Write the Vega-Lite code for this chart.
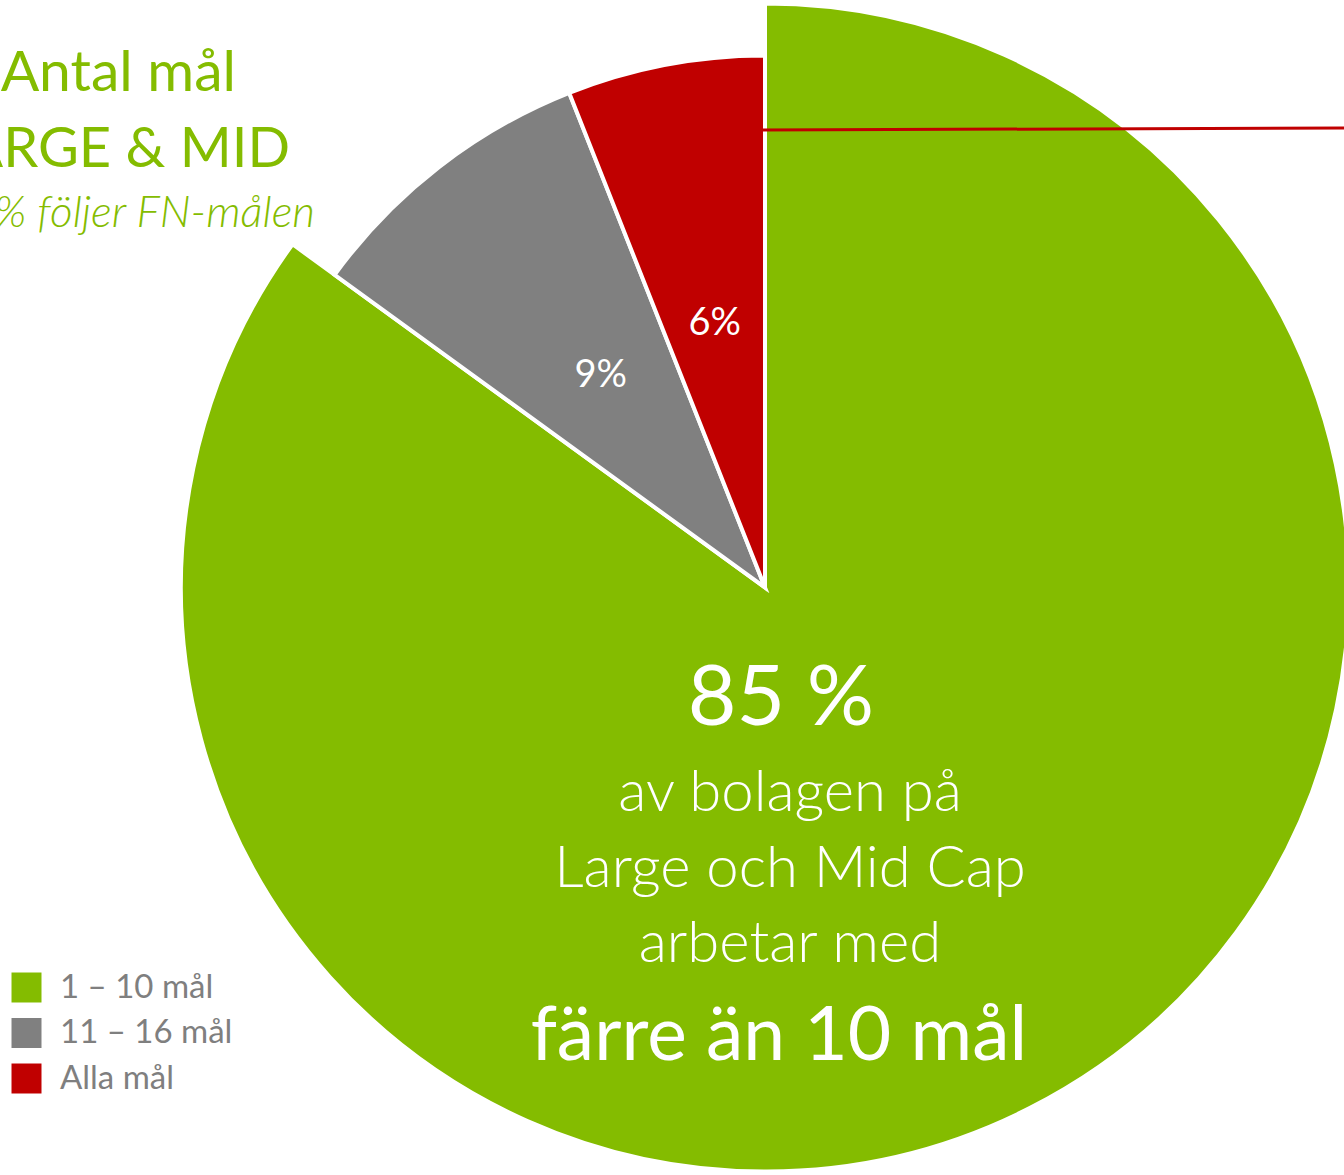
{
  "$schema": "https://vega.github.io/schema/vega-lite/v6.json",
  "width": 1158,
  "height": 1175,
  "autosize": "none",
  "padding": {"left": 186, "top": 0, "right": 0, "bottom": 0},
  "background": "white",
  "config": {"view": {"stroke": null}, "font": "Lato"},
  "data": {
    "values": [
      {"group": "1 – 10 mål", "pct": 85, "ord": 1, "label": ""},
      {"group": "11 – 16 mål", "pct": 9, "ord": 2, "label": "9%"},
      {"group": "Alla mål", "pct": 6, "ord": 3, "label": "6%"}
    ]
  },
  "layer": [
    {
      "mark": {"type": "arc", "outerRadius": 584, "stroke": "white", "strokeWidth": 4},
      "encoding": {
        "theta": {"field": "pct", "type": "quantitative", "stack": true},
        "order": {"field": "ord", "type": "quantitative"},
        "color": {
          "field": "group",
          "type": "nominal",
          "scale": {"domain": ["1 – 10 mål", "11 – 16 mål", "Alla mål"], "range": ["#84BC00", "#808080", "#C00000"]},
          "legend": {
            "orient": "none",
            "legendX": -176,
            "legendY": 971,
            "title": null,
            "symbolType": "square",
            "symbolSize": 900,
            "symbolStrokeWidth": 0,
            "symbolOpacity": 1,
            "labelFontSize": 33,
            "labelColor": "#7F7F7F",
            "labelFont": "Lato",
            "labelOffset": 17,
            "rowPadding": 11.5,
            "labelLimit": 400,
            "padding": 0
          }
        },
        "opacity": {"condition": {"test": "datum.ord === 1", "value": 1}, "value": 0}
      }
    },
    {
      "mark": {"type": "arc", "outerRadius": 532, "stroke": "white", "strokeWidth": 4},
      "encoding": {
        "theta": {"field": "pct", "type": "quantitative", "stack": true},
        "order": {"field": "ord", "type": "quantitative"},
        "color": {"field": "group", "type": "nominal"},
        "opacity": {"condition": {"test": "datum.ord === 1", "value": 0}, "value": 1}
      }
    },
    {
      "mark": {"type": "text", "radius": 268, "fontSize": 38, "fill": "white", "font": "Lato", "baseline": "middle", "align": "center"},
      "encoding": {
        "theta": {"field": "pct", "type": "quantitative", "stack": true},
        "order": {"field": "ord", "type": "quantitative"},
        "text": {"field": "label", "type": "nominal"}
      }
    },
    {
      "data": {"values": [{"t": "85 %"}]},
      "mark": {"type": "text", "fontSize": 84, "fill": "white", "font": "Lato", "align": "center", "baseline": "alphabetic", "dx": 16, "dy": 137.5},
      "encoding": {"text": {"field": "t", "type": "nominal"}}
    },
    {
      "data": {"values": [{"t": "av bolagen på\nLarge och Mid Cap\narbetar med"}]},
      "mark": {"type": "text", "fontSize": 58, "fontWeight": 300, "fill": "white", "font": "Lato", "align": "center", "baseline": "alphabetic", "lineBreak": "\n", "lineHeight": 75.5, "dx": 25, "dy": 223.5},
      "encoding": {"text": {"field": "t", "type": "nominal"}}
    },
    {
      "data": {"values": [{"t": "färre än 10 mål"}]},
      "mark": {"type": "text", "fontSize": 75, "fill": "white", "font": "Lato", "align": "center", "baseline": "alphabetic", "dx": 14, "dy": 472.5},
      "encoding": {"text": {"field": "t", "type": "nominal"}}
    },
    {
      "data": {"values": [{"t": "Antal mål"}]},
      "mark": {"type": "text", "fontSize": 57, "fill": "#84BC00", "font": "Lato", "align": "right", "baseline": "alphabetic", "dx": -529, "dy": -496.5},
      "encoding": {"text": {"field": "t", "type": "nominal"}}
    },
    {
      "data": {"values": [{"t": "LARGE & MID"}]},
      "mark": {"type": "text", "fontSize": 56, "fill": "#84BC00", "font": "Lato", "align": "right", "baseline": "alphabetic", "dx": -475, "dy": -420.5},
      "encoding": {"text": {"field": "t", "type": "nominal"}}
    },
    {
      "data": {"values": [{"t": "100 % följer FN-målen"}]},
      "mark": {"type": "text", "fontSize": 44, "fontWeight": 300, "fontStyle": "italic", "fill": "#84BC00", "font": "Lato", "align": "right", "baseline": "alphabetic", "dx": -450, "dy": -360.5},
      "encoding": {"text": {"field": "t", "type": "nominal"}}
    },
    {
      "data": {"values": [{"line": "leader"}]},
      "mark": {"type": "rule", "color": "#C00000", "strokeWidth": 3},
      "encoding": {"x": {"value": 575}, "x2": {"value": 1158}, "y": {"value": 130}, "y2": {"value": 128}}
    }
  ]
}
